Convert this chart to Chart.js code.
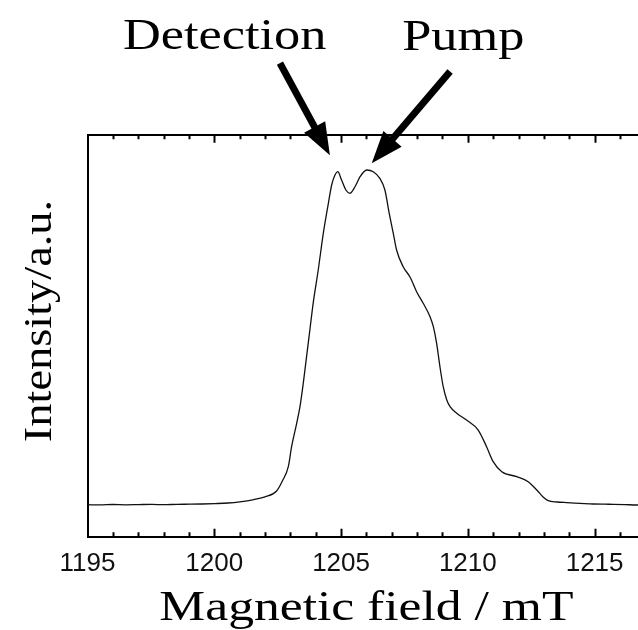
<!DOCTYPE html>
<html>
<head>
<meta charset="utf-8">
<title>ESR spectrum</title>
<script src="https://cdn.jsdelivr.net/npm/chart.js@4.4.1/dist/chart.umd.min.js"></script>
<style>
  html, body { margin: 0; padding: 0; background: #fff; overflow: hidden; }
  #wrap { position: relative; width: 660px; height: 630px; }
</style>
</head>
<body>
<div id="wrap"><canvas id="esrChart" width="660" height="630"></canvas></div>
<script>
// field sweep (mT) and echo intensity (a.u.)
const fieldMT = [
    1195.00, 1195.49, 1196.00, 1196.51, 1197.03, 1197.54, 1198.01, 1198.53, 1199.04, 1199.51,
    1200.03, 1200.54, 1201.01, 1201.52, 1202.00, 1202.46, 1202.69, 1202.92, 1203.05, 1203.25,
    1203.38, 1203.51, 1203.64, 1203.77, 1203.90, 1204.10, 1204.30, 1204.50, 1204.63, 1204.76,
    1204.87, 1205.02, 1205.19, 1205.35, 1205.55, 1205.75, 1206.01, 1206.27, 1206.53, 1206.73,
    1206.90, 1207.06, 1207.19, 1207.45, 1207.72, 1207.98, 1208.24, 1208.51, 1208.64, 1208.77,
    1208.90, 1209.03, 1209.17, 1209.30, 1209.56, 1209.95, 1210.41, 1210.74, 1211.00, 1211.34,
    1211.93, 1212.38, 1212.72, 1212.98, 1213.17, 1213.52, 1213.90, 1214.42, 1214.95, 1215.41,
    1215.74, 1216.20, 1216.66, 1217.00
];
const intensity = [
    7.96, 7.91, 8.01, 7.94, 7.99, 8.03, 7.96, 8.06, 8.08, 8.13,
    8.23, 8.38, 8.68, 9.18, 9.93, 11.37, 13.90, 17.41, 22.39, 28.21,
    32.34, 38.16, 44.78, 51.42, 58.06, 66.34, 75.47, 82.94, 87.49, 89.98,
    90.80, 88.73, 86.24, 85.42, 87.06, 89.55, 91.22, 90.80, 89.15, 86.24,
    80.45, 75.47, 71.32, 67.16, 64.60, 60.95, 58.06, 54.73, 52.24, 48.11,
    42.29, 37.31, 34.00, 32.34, 30.70, 29.03, 26.54, 22.39, 18.66, 16.17,
    14.93, 13.68, 11.62, 9.80, 8.96, 8.63, 8.48, 8.31, 8.13, 8.08,
    8.06, 7.99, 7.89, 7.92
];
const majorTicks = [1195, 1200, 1205, 1210, 1215];

const xTitle = 'Magnetic field / mT';
const yTitle = 'Intensity/a.u.';

// arrows pointing at the two peaks, anchors in data units
const callouts = [
    { text: 'Detection', label: [1200.41, 121.2], from: [1202.59, 117.8], to: [1204.56, 94.9] },
    { text: 'Pump', label: [1209.82, 121.0], from: [1209.30, 115.7], to: [1206.21, 92.9] }
];

const SERIF = '"Liberation Serif", "Times New Roman", serif';

function wideText(ctx, text, x, y, size, stretch, angle) {
    ctx.save();
    ctx.translate(x, y);
    if (angle) ctx.rotate(angle);
    ctx.scale(stretch, 1);
    ctx.font = size + 'px ' + SERIF;
    ctx.fillStyle = '#000';
    ctx.textAlign = 'center';
    ctx.textBaseline = 'alphabetic';
    ctx.fillText(text, 0, 0);
    ctx.restore();
}

function arrow(ctx, x1, y1, x2, y2) {
    const ang = Math.atan2(y2 - y1, x2 - x1);
    const headLen = 32, headHalf = 12;
    const bx = x2 - headLen * Math.cos(ang);
    const by = y2 - headLen * Math.sin(ang);
    ctx.save();
    ctx.strokeStyle = '#000';
    ctx.fillStyle = '#000';
    ctx.lineWidth = 7;
    ctx.beginPath();
    ctx.moveTo(x1, y1);
    ctx.lineTo(bx + 2 * Math.cos(ang), by + 2 * Math.sin(ang));
    ctx.stroke();
    ctx.beginPath();
    ctx.moveTo(x2, y2);
    ctx.lineTo(bx - headHalf * Math.sin(ang), by + headHalf * Math.cos(ang));
    ctx.lineTo(bx + headHalf * Math.sin(ang), by - headHalf * Math.cos(ang));
    ctx.closePath();
    ctx.fill();
    ctx.restore();
}

// inward tick marks on the bottom and top frame lines
const innerTicks = {
    id: 'innerTicks',
    afterDraw(chart) {
        const { ctx, chartArea } = chart;
        const xs = chart.scales.x;
        ctx.save();
        ctx.strokeStyle = '#000';
        ctx.lineWidth = 2;
        xs.ticks.forEach(t => {
            const px = Math.round(xs.getPixelForValue(t.value)) + 0.5;
            if (px < chartArea.left + 2) return;
            const len = majorTicks.includes(t.value) ? 8 : 4.5;
            ctx.beginPath();
            ctx.moveTo(px, chartArea.bottom);
            ctx.lineTo(px, chartArea.bottom - len);
            ctx.moveTo(px, chartArea.top);
            ctx.lineTo(px, chartArea.top + len);
            ctx.stroke();
        });
        ctx.restore();
    }
};

// axis titles and the peak callouts
const annotations = {
    id: 'annotations',
    afterDraw(chart) {
        const { ctx, chartArea } = chart;
        const xs = chart.scales.x, ys = chart.scales.y;
        wideText(ctx, xTitle, (chartArea.left + chartArea.right) / 2, 620, 43, 1.2, 0);
        wideText(ctx, yTitle, 51, 321, 40, 1.16, -Math.PI / 2);
        callouts.forEach(c => {
            wideText(ctx, c.text, xs.getPixelForValue(c.label[0]), ys.getPixelForValue(c.label[1]), 44, 1.19, 0);
            arrow(ctx,
                xs.getPixelForValue(c.from[0]), ys.getPixelForValue(c.from[1]),
                xs.getPixelForValue(c.to[0]), ys.getPixelForValue(c.to[1]));
        });
    }
};

const ctx = document.getElementById('esrChart').getContext('2d');
const esrChart = new Chart(ctx, {
    type: 'line',
    data: {
        datasets: [{
            data: fieldMT.map((f, i) => ({ x: f, y: intensity[i] })),
            borderColor: '#111',
            borderWidth: 1.3,
            pointRadius: 0,
            cubicInterpolationMode: 'monotone',
            fill: false
        }]
    },
    options: {
        responsive: false,
        animation: false,
        devicePixelRatio: 1,
        layout: { padding: { left: 87.5, top: 134.7, right: 14.7, bottom: 43.3 } },
        plugins: { legend: { display: false }, tooltip: { enabled: false } },
        scales: {
            x: {
                type: 'linear',
                position: 'bottom',
                min: 1195,
                max: 1217,
                afterFit: s => { s.height = 50; },
                afterBuildTicks: s => {
                    s.ticks = [];
                    for (let v = 1195; v <= 1217; v++) s.ticks.push({ value: v });
                },
                ticks: {
                    autoSkip: false,
                    maxRotation: 0,
                    padding: 12,
                    color: '#111',
                    font: { family: '"Liberation Sans", Arial, sans-serif', size: 26 },
                    callback: v => majorTicks.includes(v) ? String(v) : ''
                },
                grid: { display: true, drawOnChartArea: false, drawTicks: false },
                border: { display: true, color: '#000', width: 2 }
            },
            x2: {
                type: 'linear',
                position: 'top',
                min: 1195,
                max: 1217,
                afterFit: s => { s.height = 0; },
                ticks: { display: false },
                grid: { display: true, drawOnChartArea: false, drawTicks: false },
                border: { display: true, color: '#000', width: 2 }
            },
            y: {
                type: 'linear',
                min: 0,
                max: 100,
                afterFit: s => { s.width = 0; },
                ticks: { display: false },
                grid: { display: true, drawOnChartArea: false, drawTicks: false },
                border: { display: true, color: '#000', width: 2 }
            }
        }
    },
    plugins: [innerTicks, annotations]
});
</script>
</body>
</html>
